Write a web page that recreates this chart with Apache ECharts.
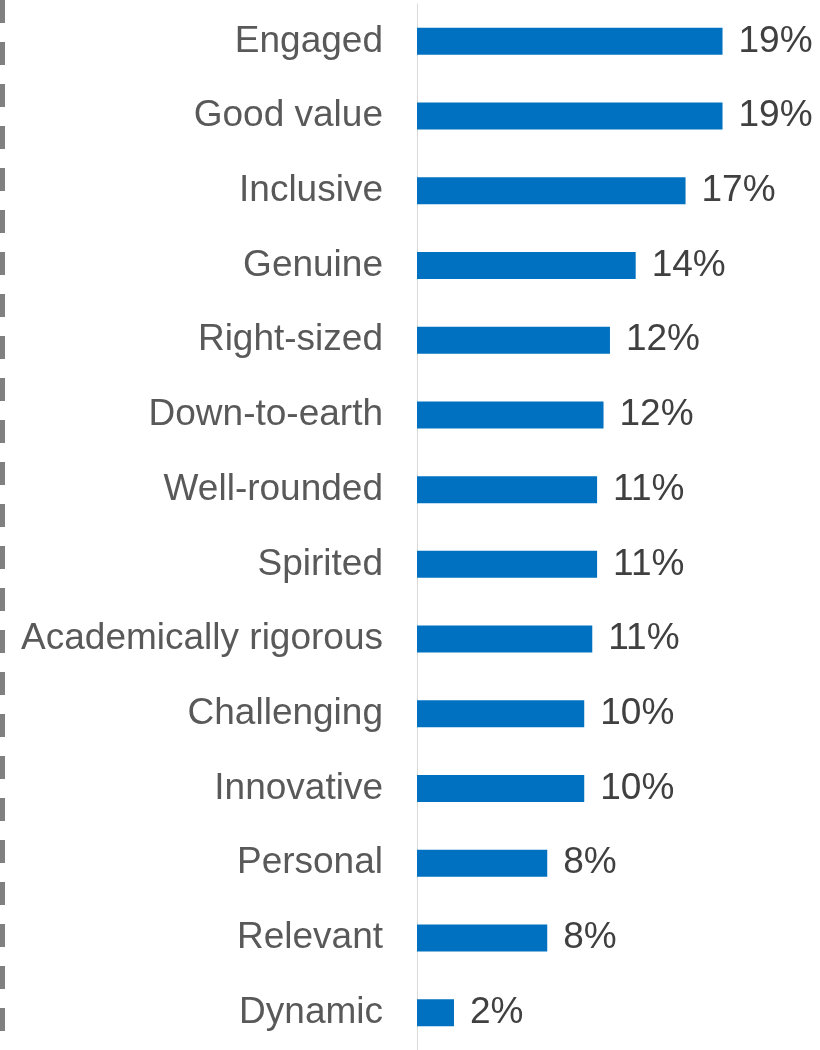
<!DOCTYPE html>
<html>
<head>
<meta charset="utf-8">
<style>
html,body{margin:0;padding:0;background:#fff;}
#chart{width:820px;height:1050px;}
</style>
<script src="https://cdn.jsdelivr.net/npm/echarts@6/dist/echarts.min.js"></script>
</head>
<body>
<div id="chart"></div>
<script>
var categories = ["Engaged","Good value","Inclusive","Genuine","Right-sized","Down-to-earth","Well-rounded","Spirited","Academically rigorous","Challenging","Innovative","Personal","Relevant","Dynamic"];
var values = [19.0, 19.0, 16.7, 13.6, 12.0, 11.6, 11.2, 11.2, 10.9, 10.4, 10.4, 8.1, 8.1, 2.3];

var chart = echarts.init(document.getElementById('chart'), null, {renderer:'canvas'});
chart.setOption({
  animation: false,
  backgroundColor: '#ffffff',
  grid: {left: 417, right: 81.4, top: 4, bottom: 0, containLabel: false},
  xAxis: {
    type: 'value', min: 0, max: 20,
    show: false
  },
  yAxis: {
    type: 'category',
    data: categories,
    inverse: true,
    axisLine: {show: true, lineStyle: {color: '#d9d9d9', width: 1}},
    axisTick: {show: false},
    axisLabel: {
      color: '#595959', fontSize: 37, fontFamily: 'Liberation Sans, Arial, sans-serif',
      margin: 34, padding: [10, 0, 0, 0]
    },
    splitLine: {show: false}
  },
  series: [{
    type: 'bar',
    data: values,
    barWidth: 27,
    itemStyle: {color: '#0070C0'},
    label: {
      show: true, position: 'right', distance: 16,
      color: '#404040', fontSize: 37, fontFamily: 'Liberation Sans, Arial, sans-serif',
      padding: [10, 0, 0, 0],
      formatter: function(p){ return Math.round(p.value) + '%'; }
    }
  }],
  graphic: [{
    type: 'line',
    shape: {x1: 2.5, y1: 0, x2: 2.5, y2: 1050},
    style: {stroke: '#808080', lineWidth: 5, lineDash: [23, 19]},
    silent: true
  }]
});
</script>
</body>
</html>
